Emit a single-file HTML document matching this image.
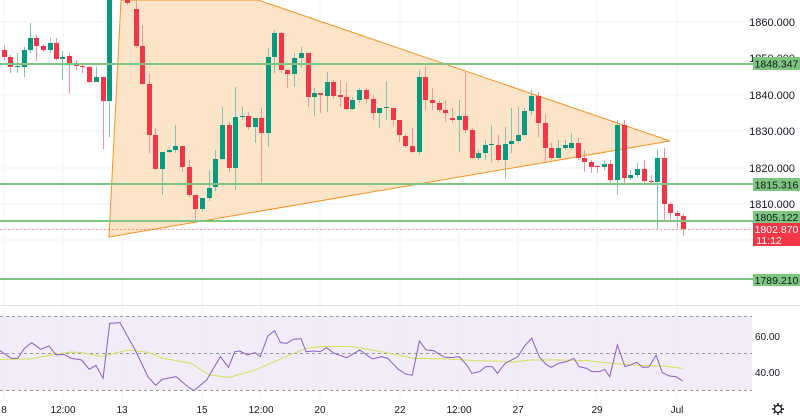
<!DOCTYPE html>
<html><head><meta charset="utf-8"><style>
html,body{margin:0;padding:0;background:#fff;}
svg{display:block;font-family:"Liberation Sans",sans-serif;}
</style></head><body>
<svg id="s" width="800" height="417" viewBox="0 0 800 417" xmlns="http://www.w3.org/2000/svg">
<g stroke="#f0f3fa" stroke-width="1">
<line x1="4" y1="0" x2="4" y2="400"/><line x1="63" y1="0" x2="63" y2="400"/><line x1="122" y1="0" x2="122" y2="400"/><line x1="202" y1="0" x2="202" y2="400"/><line x1="261" y1="0" x2="261" y2="400"/><line x1="320" y1="0" x2="320" y2="400"/><line x1="400" y1="0" x2="400" y2="400"/><line x1="459" y1="0" x2="459" y2="400"/><line x1="518" y1="0" x2="518" y2="400"/><line x1="597" y1="0" x2="597" y2="400"/><line x1="677" y1="0" x2="677" y2="400"/>
<line x1="0" y1="22" x2="752" y2="22"/><line x1="0" y1="58" x2="752" y2="58"/><line x1="0" y1="95" x2="752" y2="95"/><line x1="0" y1="131" x2="752" y2="131"/><line x1="0" y1="168" x2="752" y2="168"/><line x1="0" y1="204" x2="752" y2="204"/><line x1="0" y1="240" x2="752" y2="240"/><line x1="0" y1="277" x2="752" y2="277"/>
</g>
<polygon points="109,237 121,0 258,0 670,141" fill="#fbdfc0" fill-opacity="0.85" stroke="#f7931e" stroke-width="1"/>
<g id="c"></g>
<line x1="0" y1="229.5" x2="752" y2="229.5" stroke="#f23645" stroke-opacity="0.5" stroke-dasharray="2,2"/>
<g stroke="#7dc67f" stroke-width="2">
<line x1="0" y1="64" x2="753" y2="64"/><line x1="0" y1="184" x2="753" y2="184"/><line x1="0" y1="221" x2="753" y2="221"/><line x1="0" y1="279" x2="753" y2="279"/>
</g>
<g font-size="11" fill="#131722" text-anchor="end">
<text x="795" y="26">1860.000</text><text x="795" y="62">1850.000</text><text x="795" y="99">1840.000</text><text x="795" y="135">1830.000</text><text x="795" y="172">1820.000</text><text x="795" y="208">1810.000</text>
</g>
<g font-size="10.5" text-anchor="middle">
<rect x="753" y="57" width="47" height="13" fill="#7dc67f"/><text x="776.5" y="67.5" fill="#131722">1848.347</text>
<rect x="753" y="178" width="47" height="13" fill="#7dc67f"/><text x="776.5" y="188.5" fill="#131722">1815.316</text>
<rect x="753" y="211" width="47" height="12" fill="#7dc67f"/><text x="776.5" y="221" fill="#131722">1805.122</text>
<rect x="753" y="223" width="47" height="23" fill="#f23645"/><text x="776.5" y="233" fill="#fff">1802.870</text><text x="769" y="244" fill="#fff">11:12</text>
<rect x="753" y="274" width="47" height="12" fill="#7dc67f"/><text x="776.5" y="284" fill="#131722">1789.210</text>
</g>
<line x1="0" y1="305.5" x2="800" y2="305.5" stroke="#e0e3eb"/>
<rect x="0" y="316" width="752" height="74" fill="#ede7f6" fill-opacity="0.8"/>
<g stroke="#9598a1" stroke-dasharray="3,3" stroke-width="1">
<line x1="0" y1="316.5" x2="752" y2="316.5"/><line x1="0" y1="353.5" x2="752" y2="353.5"/><line x1="0" y1="390.5" x2="752" y2="390.5"/>
</g>
<g transform="translate(0,250) scale(0.5102,0.33333)" fill="none">
<polyline vector-effect="non-scaling-stroke" stroke="#d4e157" stroke-width="1" points="0,328 60,327 100,315 140,306 160,308 200,320 250,300 290,307 320,325 375,340 410,375 450,382 500,360 560,320 600,295 630,289 690,290 730,300 780,315 810,325 880,327 930,332 960,333 980,333 1000,337 1040,330 1100,330 1150,332 1200,340 1250,346 1300,348 1338,355"/>
<polyline vector-effect="non-scaling-stroke" stroke="#8e5cc8" stroke-width="1" points="0,302 22,325 35,325 48,295 62,278 80,298 96,288 110,315 125,313 140,325 160,330 175,358 188,346 202,385 215,220 235,218 265,300 290,380 305,406 318,388 345,380 370,412 380,422 405,390 432,320 448,352 460,305 470,303 485,315 500,308 510,320 525,258 538,242 550,278 562,280 575,268 590,266 600,305 615,303 628,305 640,293 655,310 680,323 705,300 730,327 748,320 760,325 780,357 795,372 808,376 822,273 835,300 850,302 870,321 885,323 900,320 915,345 925,370 940,365 952,350 965,350 975,370 990,340 1015,320 1028,288 1042,265 1057,320 1070,343 1080,352 1095,340 1110,335 1125,325 1135,350 1150,355 1160,365 1175,365 1185,358 1195,380 1210,285 1225,350 1235,345 1248,337 1260,352 1272,351 1286,315 1298,368 1312,378 1325,380 1338,393"/>
</g>
<g font-size="10" fill="#131722" text-anchor="end"><text x="780" y="340">60.00</text><text x="780" y="376">40.00</text></g>
<g font-size="10" fill="#131722" text-anchor="middle">
<text x="4" y="413">8</text><text x="63" y="413">12:00</text><text x="122" y="413">13</text><text x="202" y="413">15</text><text x="261" y="413">12:00</text><text x="320" y="413">20</text><text x="400" y="413">22</text><text x="459" y="413">12:00</text><text x="518" y="413">27</text><text x="597" y="413">29</text><text x="677" y="413">Jul</text>
</g>
<g transform="translate(778,409)" stroke="#131722" fill="none" stroke-width="1.2"><circle r="3.5"/><g stroke-width="1.5"><line x1="0" y1="-6" x2="0" y2="-4"/><line x1="0" y1="4" x2="0" y2="6"/><line x1="-6" y1="0" x2="-4" y2="0"/><line x1="4" y1="0" x2="6" y2="0"/><line x1="-4.2" y1="-4.2" x2="-2.8" y2="-2.8"/><line x1="2.8" y1="2.8" x2="4.2" y2="4.2"/><line x1="-4.2" y1="4.2" x2="-2.8" y2="2.8"/><line x1="2.8" y1="-2.8" x2="4.2" y2="-4.2"/></g></g>
</svg>
<script>
var d=[[4,'r',50,57,45,60],[10,'r',57,67,55,73],[17,'g',66,67,53,73],[24,'g',50,67,47,77],[30,'g',38,50,23,53],[36,'r',38,46,35,61],[43,'r',46,50,44,52],[50,'g',43,50,38,53],[56,'r',43,59,38,60],[62,'g',57,59,51,80],[69,'r',56,63,53,94],[76,'r',63,66,60,70],[82,'r',66,67,65,73],[89,'r',67,82,66,83],[96,'g',77,82,67,82],[103,'r',77,101,77,149],[109,'g',0,101,0,137],[127,'r',0,3,0,5],[136,'r',9,46,0,48],[142,'r',46,84,25,85],[149,'r',84,135,73,153],[155,'r',135,169,128,170],[162,'g',152,169,152,195],[169,'g',150,152,148,153],[175,'g',146,150,125,153],[182,'r',146,167,146,172],[189,'r',167,195,160,197],[195,'r',195,209,195,222],[202,'g',198,209,198,212],[209,'g',188,198,170,201],[215,'g',159,187,150,191],[222,'g',125,159,107,160],[229,'r',125,168,122,172],[235,'g',117,168,87,190],[242,'g',116,117,107,120],[248,'r',116,127,112,130],[255,'g',118,127,118,143],[261,'r',118,133,108,183],[268,'g',57,133,48,147],[274,'g',33,57,30,73],[281,'r',33,70,32,73],[287,'r',70,74,70,88],[294,'g',58,74,53,87],[301,'g',53,58,47,68],[308,'r',53,97,53,107],[314,'g',93,97,88,116],[320,'r',93,95,93,113],[327,'g',82,96,72,112],[333,'r',82,96,80,99],[340,'r',95,97,80,107],[346,'r',97,109,83,110],[352,'g',100,109,97,110],[359,'g',90,100,88,103],[366,'r',90,99,88,103],[373,'r',99,113,95,120],[379,'g',108,113,108,128],[386,'g',107,108,81,120],[393,'r',108,120,108,126],[399,'r',120,135,120,142],[405,'r',136,146,134,148],[412,'r',146,152,128,153],[419,'g',77,152,70,155],[425,'r',77,100,66,110],[432,'r',100,103,88,110],[439,'r',103,110,100,112],[445,'r',110,113,100,122],[452,'r',118,120,108,123],[459,'g',116,120,100,152],[465,'r',116,130,72,133],[472,'r',130,158,128,159],[478,'g',153,158,150,160],[485,'g',145,153,140,160],[491,'g',144,145,125,162],[498,'r',145,160,135,162],[505,'g',144,160,127,178],[511,'g',141,144,108,153],[518,'g',135,141,107,143],[524,'g',111,135,108,136],[531,'g',96,111,90,115],[538,'r',96,123,92,137],[545,'r',123,148,114,163],[551,'r',148,158,143,160],[558,'g',148,158,140,158],[565,'g',145,148,140,150],[571,'g',143,148,133,150],[578,'r',143,158,138,160],[584,'r',158,162,150,172],[591,'r',162,167,160,173],[597,'r',166,167,165,173],[604,'g',164,167,161,170],[610,'r',164,180,160,183],[617,'g',125,180,120,195],[624,'r',125,178,120,183],[630,'g',175,178,170,180],[637,'g',169,175,163,178],[644,'r',169,181,160,185],[651,'r',181,182,175,185],[657,'g',158,182,150,229],[664,'r',158,204,148,222],[670,'r',204,213,202,220],[677,'r',213,216,210,228],[683,'r',216,229,214,236]];
var g=document.getElementById('c'),h='';
d.forEach(function(a){var c=a[1]=='g'?'#089981':'#f23645';var wc=a[1]=='g'?'#7fc4b6':'#f5949d';
h+='<line x1="'+(a[0]+0.5)+'" x2="'+(a[0]+0.5)+'" y1="'+a[4]+'" y2="'+a[5]+'" stroke="'+wc+'" stroke-width="1"/>';
h+='<rect x="'+(a[0]-2)+'" y="'+a[2]+'" width="5" height="'+Math.max(1,a[3]-a[2])+'" fill="'+c+'"/>';});
g.innerHTML=h;
</script>
</body></html>
